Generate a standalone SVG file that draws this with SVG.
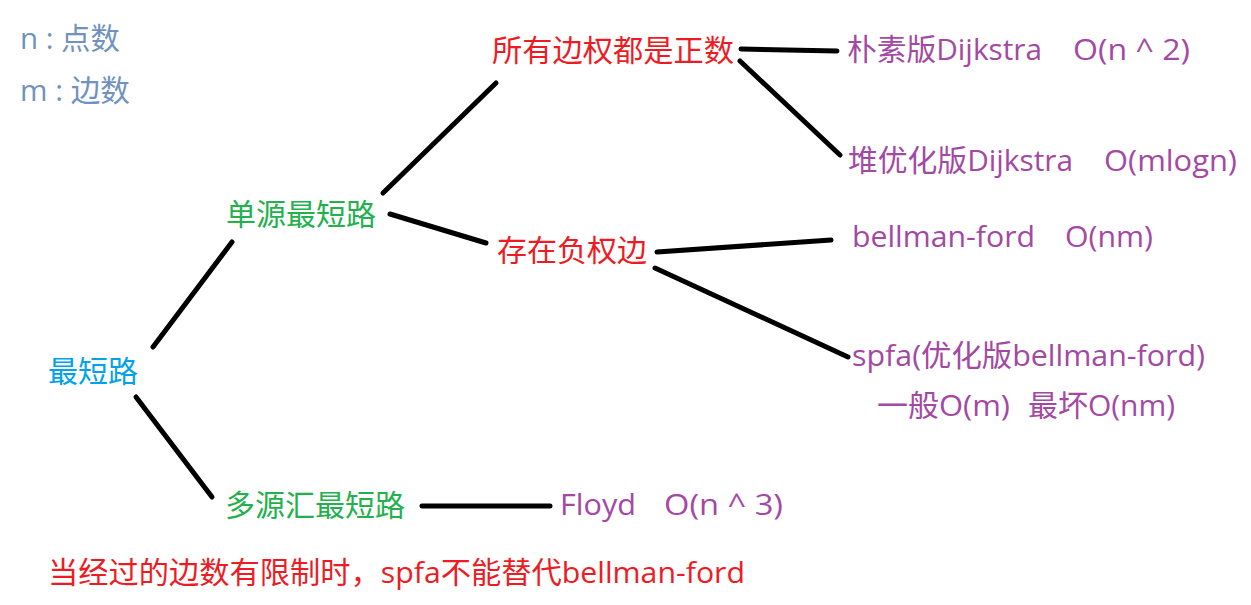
<svg xmlns="http://www.w3.org/2000/svg" width="1251" height="605" viewBox="0 0 1251 605">
<style>
text{font-family:"Open Sans","Noto Sans CJK SC",sans-serif;font-size:30px;white-space:pre}
.lg{fill:#7092BE}
.r{fill:#ED1C24}
.g{fill:#22B14C}
.b{fill:#00A2E8}
.p{fill:#A349A4}
.c line{stroke:#000;stroke-width:5;stroke-linecap:round}
</style>
<rect width="1251" height="605" fill="#fff"/>
<g id="legend">
<text class="lg" x="20" y="49" textLength="100" lengthAdjust="spacingAndGlyphs">n : 点数</text>
<text class="lg" x="20" y="101" textLength="110" lengthAdjust="spacingAndGlyphs">m : 边数</text>
</g>
<g class="c" id="connectors">
<line x1="741" y1="49" x2="837" y2="51"/>
<line x1="740" y1="61" x2="840" y2="155"/>
<line x1="383" y1="193" x2="496" y2="83"/>
<line x1="390" y1="214" x2="486" y2="243"/>
<line x1="153" y1="347" x2="232" y2="242"/>
<line x1="136" y1="397" x2="212" y2="497"/>
<line x1="422" y1="506" x2="550" y2="506"/>
<line x1="657" y1="252" x2="831" y2="240"/>
<line x1="655" y1="268" x2="848" y2="357"/>
</g>
<g id="n-root"><text class="b" x="48" y="382">最短路</text></g>
<g id="n-single"><text class="g" x="226" y="225">单源最短路</text></g>
<g id="n-multi"><text class="g" x="225" y="516">多源汇最短路</text></g>
<g id="n-positive"><text class="r" x="492" y="61" textLength="242" lengthAdjust="spacingAndGlyphs">所有边权都是正数</text></g>
<g id="n-negative"><text class="r" x="497" y="261">存在负权边</text></g>
<g id="n-dij1"><text class="p" x="847" y="60" textLength="195" lengthAdjust="spacingAndGlyphs">朴素版Dijkstra</text><text class="p" x="1073" y="60" textLength="117" lengthAdjust="spacingAndGlyphs">O(n ^ 2)</text></g>
<g id="n-dij2"><text class="p" x="848" y="171" textLength="225" lengthAdjust="spacingAndGlyphs">堆优化版Dijkstra</text><text class="p" x="1104" y="171" textLength="133" lengthAdjust="spacingAndGlyphs">O(mlogn)</text></g>
<g id="n-bf"><text class="p" x="852" y="247" textLength="183" lengthAdjust="spacingAndGlyphs">bellman-ford</text><text class="p" x="1065" y="247" textLength="88" lengthAdjust="spacingAndGlyphs">O(nm)</text></g>
<g id="n-spfa"><text class="p" x="852" y="366" textLength="353" lengthAdjust="spacingAndGlyphs">spfa(优化版bellman-ford)</text><text class="p" x="877" y="416" textLength="133" lengthAdjust="spacingAndGlyphs">一般O(m)</text><text class="p" x="1028" y="416" textLength="147" lengthAdjust="spacingAndGlyphs">最坏O(nm)</text></g>
<g id="n-floyd"><text class="p" x="560" y="515" textLength="76" lengthAdjust="spacingAndGlyphs">Floyd</text><text class="p" x="664" y="515" textLength="119" lengthAdjust="spacingAndGlyphs">O(n ^ 3)</text></g>
<g id="note"><text class="r" x="48" y="583" textLength="697" lengthAdjust="spacingAndGlyphs">当经过的边数有限制时，spfa不能替代bellman-ford</text></g>
</svg>
